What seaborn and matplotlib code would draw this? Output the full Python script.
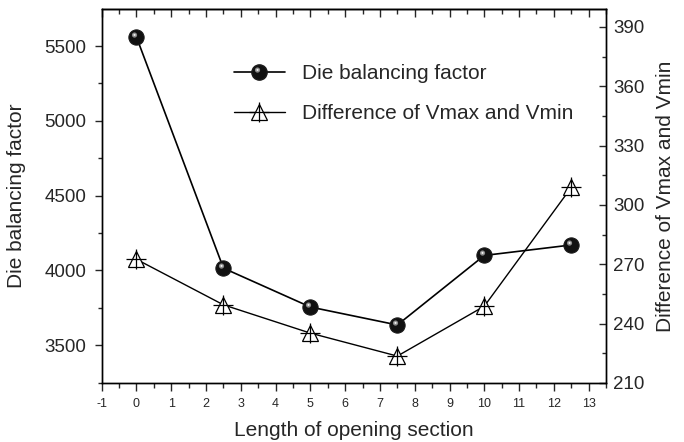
import numpy as np
import pandas as pd
import matplotlib
matplotlib.use("Agg")
import matplotlib.pyplot as plt
import seaborn as sns
from matplotlib.path import Path
from matplotlib.ticker import MultipleLocator
from matplotlib.legend_handler import HandlerTuple

# ---- data ----
length = [0, 2.5, 5, 7.5, 10, 12.5]
die_balancing = [5560, 4015, 3755, 3635, 4100, 4170]
diff_v = [272.5, 249.5, 235.2, 223.6, 248.8, 308.8]
x_ticks = list(range(-1, 14))
left_ticks = [3500, 4000, 4500, 5000, 5500]
right_ticks = [210, 240, 270, 300, 330, 360, 390]

df = pd.DataFrame({"length": length, "die": die_balancing, "diff": diff_v})

sns.set_style("ticks")
plt.rcParams["font.family"] = ["Liberation Sans", "DejaVu Sans"]

fig = plt.figure(figsize=(6.84, 4.42), dpi=100)
ax = fig.add_axes([0.1487, 0.1335, 0.7373, 0.8461])
ax2 = ax.twinx()


def offset_circle(cx, cy, r):
    c = Path.circle(center=(cx, cy), radius=r)
    # dummy corner points keep the marker scale identical to the 'o' marker
    verts = np.vstack([c.vertices, [[0.5, -0.5]], [[-0.5, 0.5]]])
    codes = np.concatenate([c.codes, [Path.MOVETO, Path.MOVETO]])
    return Path(verts, codes)


hl_path = offset_circle(-0.13, 0.16, 0.17)
hl2_path = offset_circle(-0.13, 0.17, 0.07)
MS = 11

# left series: black spheres
sns.lineplot(data=df, x="length", y="die", ax=ax, color="black", lw=1.2,
             marker="o", markersize=MS, markeredgecolor="#1a1a1a",
             markerfacecolor="#111111", legend=False)
ax.plot(df["length"], df["die"], ls="none", marker=hl_path, markersize=MS,
        markerfacecolor="#8c8c8c", markeredgewidth=0)
ax.plot(df["length"], df["die"], ls="none", marker=hl2_path, markersize=MS,
        markerfacecolor="#f0f0f0", markeredgewidth=0)

# right series: hollow triangles with cross
sns.lineplot(data=df, x="length", y="diff", ax=ax2, color="black", lw=1.0,
             marker="^", markersize=12, markerfacecolor="white",
             markeredgecolor="black", markeredgewidth=0.9, legend=False)
ax2.plot(df["length"], df["diff"], ls="none", marker="+", markersize=15,
         color="black", markeredgewidth=0.9)

ax.set_xlim(-1, 13.5)
ax.set_ylim(3247, 5748)
ax2.set_ylim(210, 399)

ax.set_xticks(x_ticks)
ax.set_xticklabels([str(t) for t in x_ticks], fontsize=9)
ax.xaxis.set_minor_locator(MultipleLocator(0.5))
ax.set_yticks(left_ticks)
ax.set_yticklabels([str(t) for t in left_ticks], fontsize=13.5)
ax.yaxis.set_minor_locator(MultipleLocator(250))
ax2.set_yticks(right_ticks)
ax2.set_yticklabels([str(t) for t in right_ticks], fontsize=13.5)
ax2.yaxis.set_minor_locator(MultipleLocator(15))

ax.tick_params(axis="x", which="major", direction="out", length=6, width=1, pad=5)
ax.tick_params(axis="x", which="minor", direction="out", length=3.5, width=1)
ax.tick_params(axis="x", which="both", top=False)
ax.tick_params(axis="y", which="major", direction="out", length=5, width=1, pad=6)
ax.tick_params(axis="y", which="minor", direction="out", length=3, width=1)
ax2.tick_params(axis="y", which="major", direction="in", length=5, width=1, pad=5)
ax2.tick_params(axis="y", which="minor", direction="in", length=3, width=1)

# top axis: inward ticks, no labels
top = ax.secondary_xaxis("top")
top.set_xticks(x_ticks)
top.set_xticklabels([])
top.xaxis.set_minor_locator(MultipleLocator(0.5))
top.tick_params(axis="x", which="major", direction="in", length=6, width=1)
top.tick_params(axis="x", which="minor", direction="in", length=3.5, width=1)
top.spines["top"].set_linewidth(1.0)

for a in (ax, ax2):
    for s in a.spines.values():
        s.set_linewidth(1.0)
        s.set_color("black")

ax.set_xlabel("Length of opening section", fontsize=15)
ax.set_ylabel("Die balancing factor", fontsize=15)
ax2.set_ylabel("Difference of Vmax and Vmin", fontsize=15)

ax.xaxis.set_label_coords(0.5, -0.1257)
ax.yaxis.set_label_coords(-0.168, 0.5)
ax2.yaxis.set_label_coords(1.117, 0.5)
for lab in (ax.xaxis.label, ax.yaxis.label, ax2.yaxis.label):
    lab.set_ha("center")
    lab.set_va("center")

# legend
h1a = plt.Line2D([], [], color="black", lw=1.2, marker="o", markersize=MS,
                 markerfacecolor="#111111", markeredgecolor="#1a1a1a")
h1b = plt.Line2D([], [], ls="none", marker=hl_path, markersize=MS,
                 markerfacecolor="#8c8c8c", markeredgewidth=0)
h1c = plt.Line2D([], [], ls="none", marker=hl2_path, markersize=MS,
                 markerfacecolor="#f0f0f0", markeredgewidth=0)
h2a = plt.Line2D([], [], color="black", lw=1.0, marker="^", markersize=12,
                 markerfacecolor="white", markeredgecolor="black", markeredgewidth=0.9)
h2b = plt.Line2D([], [], ls="none", marker="+", markersize=15, color="black",
                 markeredgewidth=0.9)
ax.legend([(h1a, h1b, h1c), (h2a, h2b)],
          ["Die balancing factor", "Difference of Vmax and Vmin"],
          handler_map={tuple: HandlerTuple(ndivide=1)},
          loc="upper left", bbox_to_anchor=(0.262, 0.853), frameon=False,
          fontsize=15, handlelength=2.45, handletextpad=0.8, labelspacing=1.0,
          borderpad=0, borderaxespad=0, numpoints=1)

fig.savefig("out.png", dpi=100)
